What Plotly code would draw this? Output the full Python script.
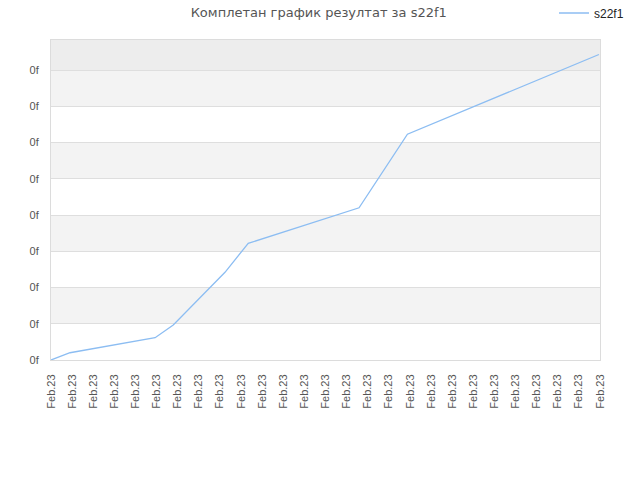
import plotly.graph_objects as go

# data (x in tick-interval units, y in grid units)
x_vals = [0, 0.90, 4.93, 5.79, 8.24, 9.34, 14.59, 16.88, 25.95]
y_vals = [0, 0.20, 0.615, 0.966, 2.42, 3.22, 4.20, 6.23, 8.43]
series_name = "s22f1"
x_tick_vals = list(range(27))
x_tick_text = ["Feb.23"] * 27
y_tick_vals = list(range(9))
y_tick_text = ["0f"] * 9
title_text = "Комплетан график резултат за s22f1"

y_top = 8.83
x_max = 26

fig = go.Figure()
fig.add_trace(go.Scatter(x=x_vals, y=y_vals, mode="lines", name=series_name,
                         line=dict(color="#8cbdf2", width=1.3)))

shapes = []
for i, v in enumerate(y_tick_vals):
    top = y_tick_vals[i + 1] if i + 1 < len(y_tick_vals) else y_top
    if i + 1 >= len(y_tick_vals):
        color = "#ededed"
    elif i % 2 == 1:
        color = "#f3f3f3"
    else:
        continue
    shapes.append(dict(type="rect", xref="paper", yref="y", x0=0, x1=1, y0=v, y1=top,
                       fillcolor=color, line=dict(width=0), layer="below"))

tick_font = dict(family="Liberation Sans, Arial, sans-serif", size=11, color="#555")

fig.update_layout(
    width=640, height=480,
    margin=dict(l=51, r=40, t=40, b=120, autoexpand=False),
    paper_bgcolor="white", plot_bgcolor="white",
    font=dict(family="Liberation Sans, Arial, sans-serif", size=11, color="#444"),
    title=dict(text=title_text, x=0.498, xanchor="center", y=1 - 12 / 480, yanchor="middle",
               font=dict(family="DejaVu Sans, sans-serif", size=13, color="#555")),
    showlegend=True,
    legend=dict(xref="container", yref="container", x=554 / 640, xanchor="left",
                y=1 - 13 / 480, yanchor="middle",
                bgcolor="rgba(0,0,0,0)", font=dict(size=12, color="#222"),
                itemwidth=30),
    shapes=shapes,
    xaxis=dict(range=[0, x_max], tickmode="array", tickvals=x_tick_vals, ticktext=x_tick_text,
               tickangle=-90, showgrid=False, zeroline=False, showline=True, mirror=True,
               linecolor="#dcdcdc", linewidth=1, ticks="outside", ticklen=9,
               tickcolor="rgba(0,0,0,0)", tickfont=tick_font),
    yaxis=dict(range=[0, y_top], tickmode="array", tickvals=y_tick_vals, ticktext=y_tick_text,
               showgrid=True, gridcolor="#dedede", gridwidth=1, zeroline=False, showline=True,
               mirror=True, linecolor="#dcdcdc", linewidth=1, ticks="outside", ticklen=9,
               tickcolor="rgba(0,0,0,0)", tickfont=tick_font),
)

fig.write_html("out.html", config={"displayModeBar": False},
               post_script="document.body.style.margin='0';")
